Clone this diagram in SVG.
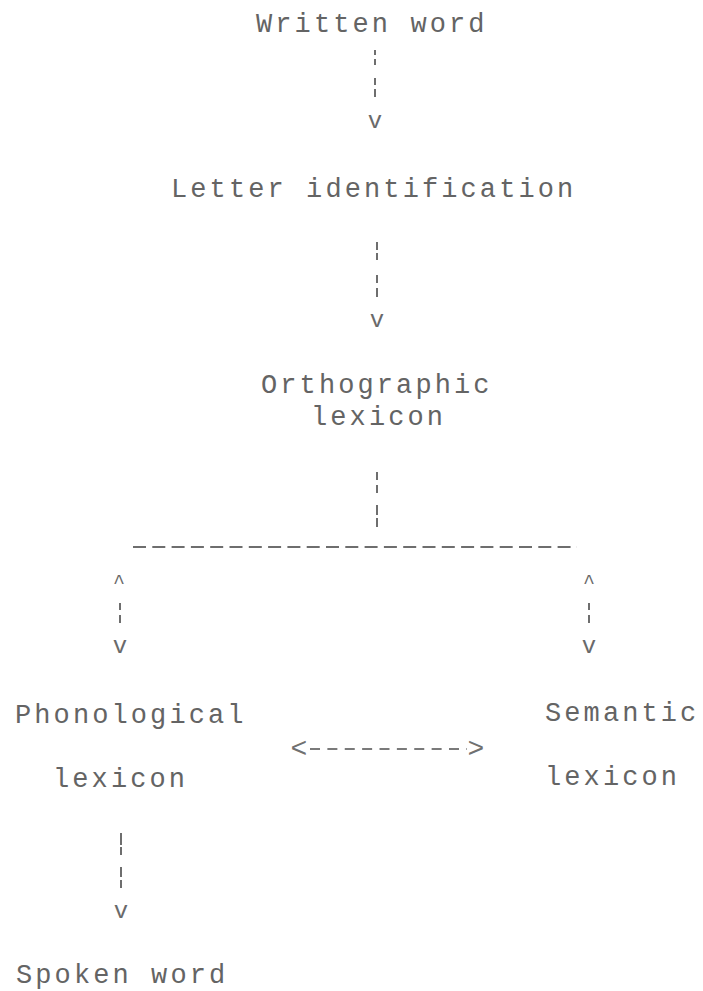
<svg xmlns="http://www.w3.org/2000/svg" width="703" height="991" viewBox="0 0 703 991">
  <style>
    .lbl { font-family: "Liberation Mono", "DejaVu Sans Mono", monospace; font-size: 27px; letter-spacing: 3.1px; fill: #646464; }
    .head { font-family: "Liberation Mono", "DejaVu Sans Mono", monospace; font-size: 24px; fill: #6a6a6a; text-anchor: middle; }
    .small { font-family: "Liberation Mono", "DejaVu Sans Mono", monospace; font-size: 20px; fill: #6a6a6a; text-anchor: middle; }
    .angle { font-family: "Liberation Mono", "DejaVu Sans Mono", monospace; font-size: 28px; fill: #707070; text-anchor: middle; }
    .bar { stroke: #6e6e6e; stroke-width: 2; fill: none; }
    .rule { stroke: #6e6e6e; stroke-width: 2; fill: none; stroke-dasharray: 13 6.3; }
    .rule-s { stroke: #7a7a7a; stroke-width: 2; fill: none; stroke-dasharray: 10 7.375; }
  </style>
  <rect width="703" height="991" fill="#ffffff"/>

  <g id="connectors">
    <!-- Written word to Letter identification -->
    <path class="bar" d="M375 50v5M375 59v6M375 78v7M375 89v8"/>
    <text class="head" x="375" y="128">v</text>
    <!-- Letter identification to Orthographic lexicon -->
    <path class="bar" d="M377 242v8M377 253v7M377 275v8M377 288v9"/>
    <text class="head" x="377" y="327">v</text>
    <!-- Orthographic lexicon down to the branch rule -->
    <path class="bar" d="M377 472v8M377 485v8M377 505v10M377 518v9"/>
    <line class="rule" x1="133" y1="547" x2="577" y2="547"/>
    <!-- Branch to Phonological lexicon -->
    <text class="small" x="119" y="588">^</text>
    <path class="bar" d="M120 603v7M120 615v8"/>
    <text class="head" x="120" y="653">v</text>
    <!-- Branch to Semantic lexicon -->
    <text class="small" x="589" y="588">^</text>
    <path class="bar" d="M589 603v7M589 615v8"/>
    <text class="head" x="589" y="653">v</text>
    <!-- Phonological lexicon <-> Semantic lexicon -->
    <text class="angle" x="299" y="757">&lt;</text>
    <line class="rule-s" x1="310" y1="749" x2="467" y2="749"/>
    <text class="angle" x="476" y="757">&gt;</text>
    <!-- Phonological lexicon to Spoken word -->
    <path class="bar" d="M121 833v12M121 847v8M121 867v10M121 880v8"/>
    <text class="head" x="121" y="918">v</text>
  </g>

  <g id="written-word">
    <text class="lbl" x="256" y="32">Written word</text>
  </g>
  <g id="letter-identification">
    <text class="lbl" x="171" y="197">Letter identification</text>
  </g>
  <g id="orthographic-lexicon">
    <text class="lbl" x="261" y="393">Orthographic</text>
    <text class="lbl" x="311" y="425">lexicon</text>
  </g>
  <g id="phonological-lexicon">
    <text class="lbl" x="15" y="723">Phonological</text>
    <text class="lbl" x="53" y="787">lexicon</text>
  </g>
  <g id="semantic-lexicon">
    <text class="lbl" x="545" y="721">Semantic</text>
    <text class="lbl" x="545" y="785">lexicon</text>
  </g>
  <g id="spoken-word">
    <text class="lbl" x="16" y="983">Spoken word</text>
  </g>
</svg>
